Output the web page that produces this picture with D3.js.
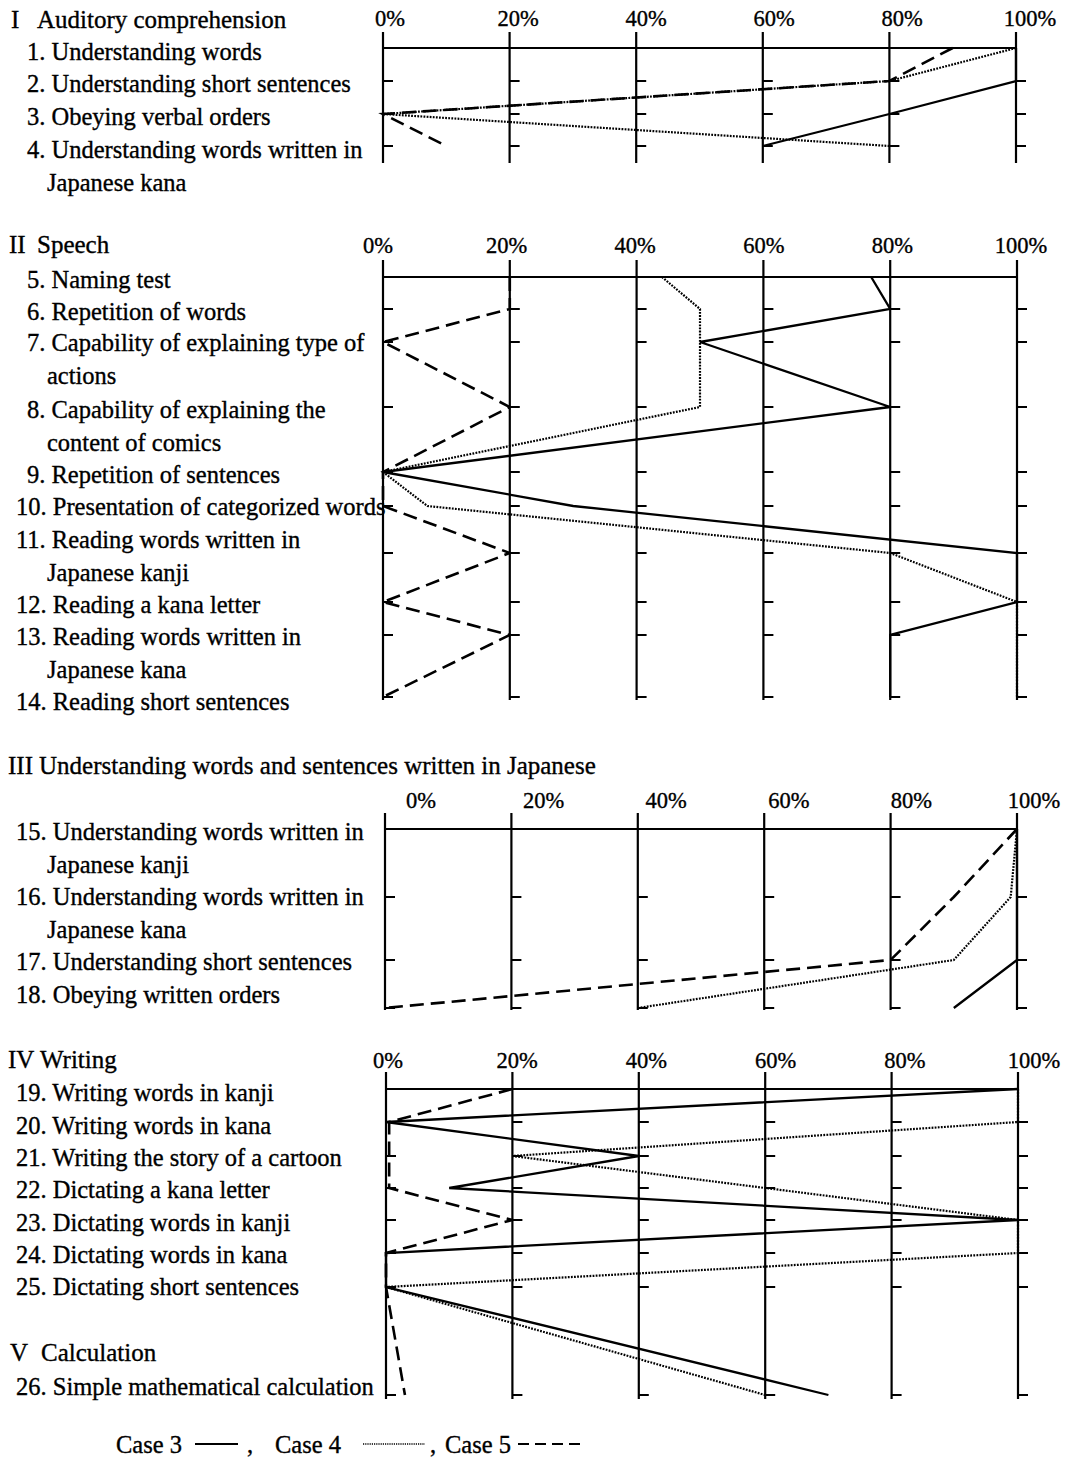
<!DOCTYPE html>
<html><head><meta charset="utf-8">
<script src="https://cdn.jsdelivr.net/npm/d3@7"></script>
<style>
body{margin:0;background:#fff}
text{font-family:"Liberation Serif","Times New Roman",serif;fill:#000;stroke:#000;stroke-width:0.35px}
</style>
</head><body>
<svg id="chart" width="1070" height="1463"></svg>
<script>
// ---------------- DATA ----------------
const caseNames = ["Case 3", "Case 4", "Case 5"];
const tickValues = [0, 20, 40, 60, 80, 100];
const tickLabels = ["0%", "20%", "40%", "60%", "80%", "100%"];

const sectionNumerals = ["I", "II", "III", "IV", "V"];
const sectionTitles = ["Auditory comprehension", "Speech",
  "Understanding words and sentences written in Japanese", "Writing", "Calculation"];

const itemsI = [
  ["1. Understanding words"],
  ["2. Understanding short sentences"],
  ["3. Obeying verbal orders"],
  ["4. Understanding words written in", "Japanese kana"]
];
const itemsII = [
  ["5. Naming test"],
  ["6. Repetition of words"],
  ["7. Capability of explaining type of", "actions"],
  ["8. Capability of explaining the", "content of comics"],
  ["9. Repetition of sentences"],
  ["10. Presentation of categorized words"],
  ["11. Reading words written in", "Japanese kanji"],
  ["12. Reading a kana letter"],
  ["13. Reading words written in", "Japanese kana"],
  ["14. Reading short sentences"]
];
const itemsIII = [
  ["15. Understanding words written in", "Japanese kanji"],
  ["16. Understanding words written in", "Japanese kana"],
  ["17. Understanding short sentences"],
  ["18. Obeying written orders"]
];
const itemsIV = [
  ["19. Writing words in kanji"],
  ["20. Writing words in kana"],
  ["21. Writing the story of a cartoon"],
  ["22. Dictating a kana letter"],
  ["23. Dictating words in kanji"],
  ["24. Dictating words in kana"],
  ["25. Dictating short sentences"],
  ["26. Simple mathematical calculation"]
];

// percentages per item (Case 3 solid, Case 4 dotted, Case 5 dashed)
const case3I = [100, 100, 80, 60];
const case4I = [100, 80, 0, 80];
const case5I = [90, 80, 0, 10];

const case3II = [77, 80, 50, 80, 0, 30, 100, 100, 80, 80];
const case4II = [44, 50, 50, 50, 0, 7, 80, 100, 100, 100];
const case5II = [20, 20, 0, 20, 0, 0, 20, 0, 20, 0];

const case3III = [100, 100, 100, 90];
const case4III = [100, 99, 90, 40];
const case5III = [100, 90, 80, 0];

const case3IV = [100, 0, 40, 10, 100, 0, 0, 70];
const case4IV = [100, 100, 20, 60, 100, 100, 0, 60];
const case5IV = [20, 0.5, 0.5, 0.5, 20, 0, 0, 3];

// ---------------- LAYOUT ----------------
const FONT = 24.5, HEADFONT = 25, TICKFONT = 22.5;
const panels = [
  {items: itemsI, series: [case3I, case4I, case5I], x: [383, 1016], labelX: [390, 1030], labelY: 26,
   top: 32, bottom: 163, rows: [48, 81, 114, 146], labelCenters: [52, 84, 117, 150]},
  {items: itemsII, series: [case3II, case4II, case5II], x: [383, 1017], labelX: [378, 1021], labelY: 253,
   top: 260, bottom: 700, rows: [277, 309, 342, 407, 472, 506, 553, 602, 635, 697],
   labelCenters: [280, 312, 343, 410, 475, 507, 540, 605, 637, 702]},
  {items: itemsIII, series: [case3III, case4III, case5III], x: [385, 1017], labelX: [421, 1034], labelY: 808,
   top: 813, bottom: 1010, rows: [829, 897, 960, 1008], labelCenters: [832, 897, 962, 995]},
  {items: itemsIV, series: [case3IV, case4IV, case5IV], x: [386, 1018], labelX: [388, 1034], labelY: 1068,
   top: 1072, bottom: 1399, rows: [1089, 1122, 1156, 1188, 1220, 1253, 1287, 1395],
   labelCenters: [1093, 1126, 1158, 1190, 1223, 1255, 1287, 1387]}
];
const headerCenters = [20, 245, 766, 1060, 1353];
const headerNumX = [11, 9, 8, 8, 10];
const headerTitleX = [37, 37, 39, 40, 41];
const lineGap = 32.5;
const styles = [
  {width: 2.3, dash: null},
  {width: 2.2, dash: "1.8,1.3"},
  {width: 2.6, dash: "14,7"}
];

const svg = d3.select("#chart");

// section headers
headerCenters.forEach((cy, i) => {
  svg.append("text").attr("x", headerNumX[i]).attr("y", cy + 8).attr("font-size", HEADFONT)
    .text(sectionNumerals[i]);
  svg.append("text").attr("x", headerTitleX[i]).attr("y", cy + 8).attr("font-size", HEADFONT)
    .text(sectionTitles[i]);
});

panels.forEach(p => {
  const g = svg.append("g");
  const x = d3.scaleLinear().domain([0, 100]).range(p.x);
  const xl = d3.scaleLinear().domain([0, 100]).range(p.labelX);
  const idx = d3.range(p.items.length);
  const y = d3.scaleOrdinal().domain(idx).range(p.rows);
  const yl = d3.scaleOrdinal().domain(idx).range(p.labelCenters);

  // item labels
  p.items.forEach((lines, i) => {
    lines.forEach((t, j) => {
      const twoDigit = /^\d\d\./.test(t);
      g.append("text")
        .attr("x", j === 0 ? (twoDigit ? 16 : 27) : 47)
        .attr("y", yl(i) + 8 + j * lineGap)
        .attr("font-size", FONT)
        .text(t);
    });
  });

  // tick labels
  g.selectAll(".tl").data(tickValues).enter().append("text")
    .attr("x", d => xl(d)).attr("y", p.labelY)
    .attr("text-anchor", "middle").attr("font-size", TICKFONT)
    .text((d, i) => tickLabels[i]);

  // vertical axis lines
  g.selectAll(".vl").data(tickValues).enter().append("line")
    .attr("x1", d => x(d)).attr("x2", d => x(d))
    .attr("y1", p.top).attr("y2", p.bottom)
    .attr("stroke", "#000").attr("stroke-width", 2.2);

  // small ticks at each row (right of each vertical)
  tickValues.forEach(v => {
    idx.slice(1).forEach(i => {
      g.append("line")
        .attr("x1", x(v)).attr("x2", x(v) + 10)
        .attr("y1", y(i)).attr("y2", y(i))
        .attr("stroke", "#000").attr("stroke-width", 2);
    });
  });

  // top frame line at first row
  g.append("line").attr("x1", x(0)).attr("x2", x(100))
    .attr("y1", y(0)).attr("y2", y(0))
    .attr("stroke", "#000").attr("stroke-width", 2);

  // data lines
  const line = d3.line().x(d => x(d.v)).y(d => y(d.i));
  p.series.forEach((s, k) => {
    const pts = s.map((v, i) => ({v, i}));
    g.append("path").attr("d", line(pts))
      .attr("fill", "none").attr("stroke", "#000")
      .attr("stroke-width", styles[k].width)
      .attr("stroke-dasharray", styles[k].dash)
      .attr("stroke-linejoin", "miter");
  });
});

// legend
const legend = svg.append("g");
const legendItems = [
  {tx: 116, lx: [195, 238], comma: 247},
  {tx: 275, lx: [363, 425], comma: 430},
  {tx: 445, lx: [518, 583], comma: null}
];
legendItems.forEach((L, k) => {
  legend.append("text").attr("x", L.tx).attr("y", 1453).attr("font-size", FONT).text(caseNames[k]);
  legend.append("line").attr("x1", L.lx[0]).attr("x2", L.lx[1]).attr("y1", 1444).attr("y2", 1444)
    .attr("stroke", "#000").attr("stroke-width", k === 1 ? 1.6 : 2)
    .attr("stroke-dasharray", k === 0 ? null : (k === 1 ? "1.2,1" : "11,6"));
  if (L.comma !== null) legend.append("text").attr("x", L.comma).attr("y", 1453).attr("font-size", FONT).text(",");
});
</script>
</body></html>
